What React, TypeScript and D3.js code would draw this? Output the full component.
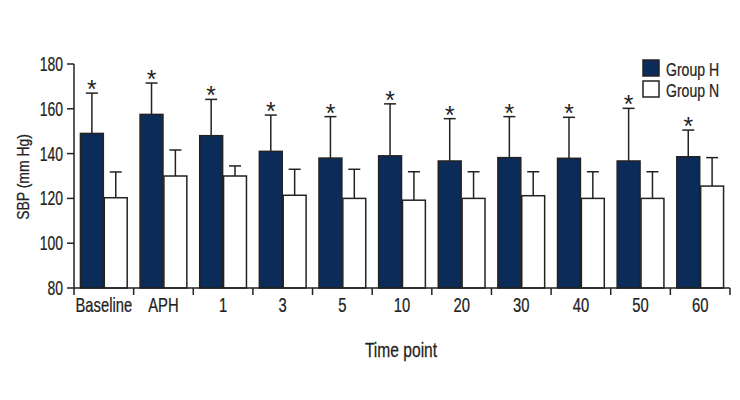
import React from 'react';
import * as d3 from 'd3';

const categories = ['Baseline', 'APH', '1', '3', '5', '10', '20', '30', '40', '50', '60'];
const groupH = [149, 157.5, 148, 141, 138, 139, 136.7, 138.2, 137.9, 136.7, 138.6];
const groupHErr = [18, 14, 16.2, 16.2, 18.5, 23.2, 18.9, 18.3, 18.3, 23.5, 11.9];
const groupN = [120.3, 130, 130, 121.4, 120, 119.2, 120, 121.2, 120, 120, 125.5];
const groupNErr = [11.5, 11.6, 4.5, 11.6, 13, 12.7, 11.9, 10.7, 11.9, 11.9, 12.7];
const significant = [true, true, true, true, true, true, true, true, true, true, true];
const yTicks = [80, 100, 120, 140, 160, 180];
const seriesNames = ['Group H', 'Group N'];

const dark = '#0b2c58';
const ink = '#222';
const font = "'Liberation Sans', Arial, sans-serif";

// condensed-looking text: squeeze horizontally around the anchor point
const Txt = ({ x, y, size = 20, anchor = 'middle', rotate = 0, sx = 0.74, sw = 0.25, children }: any) => (
  <text
    transform={`translate(${x},${y}) rotate(${rotate}) scale(${sx},1)`}
    textAnchor={anchor}
    fontSize={size}
    fill={ink}
    stroke={ink}
    strokeWidth={sw}
  >
    {children}
  </text>
);

const App = () => {
  const width = 740;
  const height = 400;
  const margin = { left: 74, top: 64 };
  const plotRight = 730;
  const plotBottom = 288;

  const x = d3.scaleBand().domain(categories).range([margin.left, plotRight]).paddingInner(0).paddingOuter(0);
  const inner = d3.scaleBand().domain(seriesNames).range([0, x.bandwidth()]).paddingInner(0.04).paddingOuter(0.27);
  const y = d3.scaleLinear().domain([80, 180]).range([plotBottom, margin.top]);

  const bounds = categories.map((c) => x(c) as number).concat([plotRight]);

  return (
    <svg width={width} height={height} style={{ display: 'block', position: 'absolute', left: 0, top: 0 }} fontFamily={font}>
      <rect width={width} height={height} fill="#fff" />
      {categories.map((c, i) => {
        const x0 = x(c) as number;
        const xH = x0 + (inner('Group H') as number);
        const xN = x0 + (inner('Group N') as number);
        const bw = inner.bandwidth();
        const topH = y(groupH[i] + groupHErr[i]);
        const topN = y(groupN[i] + groupNErr[i]);
        return (
          <g key={c}>
            <line x1={xH + bw / 2} x2={xH + bw / 2} y1={y(groupH[i])} y2={topH} stroke={ink} strokeWidth={1.5} />
            <line x1={xH + bw / 2 - 6} x2={xH + bw / 2 + 6} y1={topH} y2={topH} stroke={ink} strokeWidth={1.5} />
            <line x1={xN + bw / 2} x2={xN + bw / 2} y1={y(groupN[i])} y2={topN} stroke={ink} strokeWidth={1.5} />
            <line x1={xN + bw / 2 - 6} x2={xN + bw / 2 + 6} y1={topN} y2={topN} stroke={ink} strokeWidth={1.5} />
            <rect x={xH} y={y(groupH[i])} width={bw} height={plotBottom - y(groupH[i])} fill={dark} stroke={ink} strokeWidth={1.5} />
            <rect x={xN} y={y(groupN[i])} width={bw} height={plotBottom - y(groupN[i])} fill="#fff" stroke={ink} strokeWidth={1.5} />
            {significant[i] && (
              <Txt x={xH + bw / 2} y={topH + 5} size={26} sx={0.95} sw={0}>*</Txt>
            )}
          </g>
        );
      })}
      {/* y axis */}
      <line x1={margin.left} x2={margin.left} y1={margin.top} y2={plotBottom} stroke={ink} strokeWidth={1.5} />
      {yTicks.map((t) => (
        <g key={t}>
          <line x1={margin.left - 7} x2={margin.left} y1={y(t)} y2={y(t)} stroke={ink} strokeWidth={1.5} />
          <Txt x={margin.left - 11} y={y(t) + 7} anchor="end" sx={0.7}>{t}</Txt>
        </g>
      ))}
      <Txt x={29} y={177} rotate={-90} size={17} sx={0.82}>SBP (mm Hg)</Txt>
      {/* x axis */}
      <line x1={margin.left} x2={plotRight} y1={plotBottom} y2={plotBottom} stroke={ink} strokeWidth={1.5} />
      {bounds.map((b, i) => (
        <line key={i} x1={b} x2={b} y1={plotBottom} y2={plotBottom + 7} stroke={ink} strokeWidth={1.5} />
      ))}
      {categories.map((c) => (
        <Txt key={c} x={(x(c) as number) + x.bandwidth() / 2} y={312}>{c}</Txt>
      ))}
      <Txt x={(margin.left + plotRight) / 2 - 1} y={357} sx={0.78}>Time point</Txt>
      {/* legend */}
      {seriesNames.map((s, i) => (
        <g key={s}>
          <rect x={643} y={60 + i * 21} width={16} height={16} fill={i === 0 ? dark : '#fff'} stroke={ink} strokeWidth={1.5} />
          <Txt x={666} y={76 + i * 21} size={19} anchor="start" sx={0.74}>{s}</Txt>
        </g>
      ))}
    </svg>
  );
};

export default App;
